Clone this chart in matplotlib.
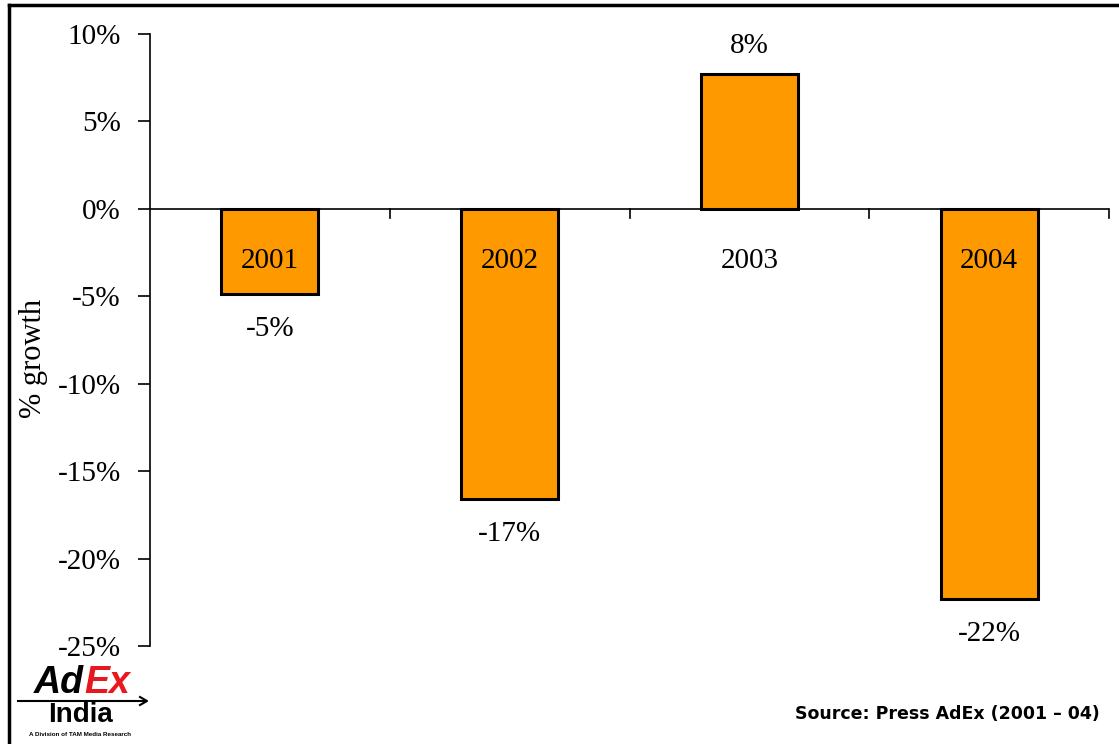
import matplotlib
matplotlib.use("Agg")
import matplotlib.pyplot as plt
from matplotlib.lines import Line2D
from matplotlib.ticker import FuncFormatter, FixedLocator

years = ["2001", "2002", "2003", "2004"]
growth = [-4.85, -16.6, 7.7, -22.3]
value_labels = ["-5%", "-17%", "8%", "-22%"]
yticks = [10, 5, 0, -5, -10, -15, -20, -25]

W, H = 1119, 744
fig = plt.figure(figsize=(W / 100, H / 100), dpi=100)
serif = "Liberation Serif"
FS = 21

# axes: x from 150 to 1109 px, y from 34 (10%) to 646 (-25%)
ax = fig.add_axes([150 / W, 1 - 646 / H, (1109 - 150) / W, (646 - 34) / H])
ax.set_xlim(0, 4)
ax.set_ylim(-25, 10)

x = [i + 0.5 for i in range(len(years))]
ax.bar(x, growth, width=0.405, color="#FF9900", edgecolor="black", linewidth=2.2, zorder=3)

for xi, g, yl, vl in zip(x, growth, years, value_labels):
    ax.text(xi, -3.0, yl, ha="center", va="center", fontsize=FS, family=serif, color="black", zorder=4)
    if g >= 0:
        ax.text(xi, g + 1.6, vl, ha="center", va="center", fontsize=FS, family=serif)
    else:
        ax.text(xi, g - 2.0, vl, ha="center", va="center", fontsize=FS, family=serif)

for s in ["top", "right", "bottom"]:
    ax.spines[s].set_visible(False)
ax.spines["left"].set_linewidth(1.2)
ax.axhline(0, color="black", linewidth=1.2, zorder=2)

ax.yaxis.set_major_locator(FixedLocator(yticks))
ax.yaxis.set_major_formatter(FuncFormatter(lambda v, p: f"{int(v)}%"))
ax.tick_params(axis="y", direction="out", length=9, width=1.2, labelsize=FS, pad=12)
for lab in ax.get_yticklabels():
    lab.set_family(serif)
ax.set_xticks([])

# category boundary ticks on the zero line
for b in range(1, 5):
    ax.plot([b, b], [0, -0.5], color="black", linewidth=1.2, clip_on=False)

fig.text(33 / W, 1 - 358 / H, "% growth", rotation=90, ha="center", va="center",
         fontsize=22, family=serif)

fig.text(1100 / W, 1 - 714 / H, "Source: Press AdEx (2001 \u2013 04)", ha="right", va="center",
         fontsize=12.5, family="DejaVu Sans", fontweight="bold")

# logo
fig.text(84 / W, 1 - 683 / H, "Ad", fontsize=27, fontweight="bold", style="italic",
         family="Liberation Sans", color="black", ha="right", va="center")
fig.text(84 / W, 1 - 683 / H, "Ex", fontsize=27, fontweight="bold", style="italic",
         family="Liberation Sans", color="#E8191E", ha="left", va="center")
fig.add_artist(Line2D([18 / W, 146 / W], [1 - 701 / H, 1 - 701 / H], color="black", linewidth=1.5))
fig.add_artist(Line2D([140 / W, 147 / W, 140 / W], [1 - 697 / H, 1 - 701 / H, 1 - 705 / H],
                      color="black", linewidth=1.5))
fig.text(80 / W, 1 - 715 / H, "India", fontsize=20, fontweight="bold", family="Liberation Sans",
         color="black", ha="center", va="center")
fig.text(80 / W, 1 - 734 / H, "A Division of TAM Media Research", fontsize=4.5, fontweight="bold",
         family="Liberation Sans", ha="center", va="center")

# partial frame: top and left lines
fig.add_artist(Line2D([9 / W, 1.0], [1 - 5 / H, 1 - 5 / H], color="black", linewidth=2.5))
fig.add_artist(Line2D([9 / W, 9 / W], [0, 1 - 5 / H], color="black", linewidth=2.5))

fig.savefig("out.png", dpi=100)
